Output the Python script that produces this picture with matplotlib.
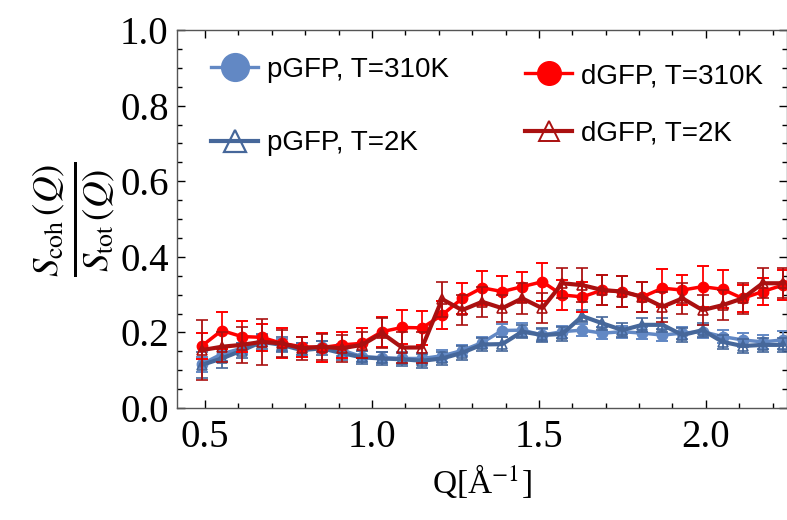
import matplotlib
matplotlib.use("Agg")
import matplotlib.pyplot as plt
from matplotlib.lines import Line2D
from matplotlib.ticker import MultipleLocator, FormatStrFormatter

plt.rcParams["mathtext.fontset"] = "stix"

Q = [0.49, 0.55, 0.61, 0.67, 0.73, 0.79, 0.85, 0.91, 0.97, 1.03,
     1.09, 1.15, 1.21, 1.27, 1.33, 1.39, 1.45, 1.51, 1.57, 1.63,
     1.69, 1.75, 1.81, 1.87, 1.93, 1.99, 2.05, 2.11, 2.17, 2.23]

p310 = [0.116, 0.143, 0.158, 0.178, 0.167, 0.156, 0.162, 0.153, 0.136, 0.133,
        0.131, 0.131, 0.138, 0.152, 0.173, 0.205, 0.206, 0.193, 0.202, 0.206,
        0.198, 0.202, 0.198, 0.193, 0.198, 0.202, 0.189, 0.180, 0.175, 0.180]
p310_err = [0.020, 0.018, 0.015, 0.015, 0.015, 0.015, 0.015, 0.015, 0.015, 0.015,
            0.015, 0.015, 0.015, 0.015, 0.015, 0.018, 0.018, 0.016, 0.016, 0.016,
            0.016, 0.016, 0.016, 0.016, 0.016, 0.018, 0.018, 0.018, 0.018, 0.025]

p2 = [0.114, 0.131, 0.152, 0.175, 0.167, 0.153, 0.158, 0.145, 0.134, 0.131,
      0.129, 0.125, 0.131, 0.146, 0.168, 0.169, 0.202, 0.193, 0.196, 0.243,
      0.224, 0.206, 0.220, 0.220, 0.193, 0.206, 0.175, 0.164, 0.167, 0.167]
p2_err = [0.035, 0.025, 0.020, 0.020, 0.020, 0.018, 0.018, 0.018, 0.018, 0.018,
          0.018, 0.018, 0.018, 0.018, 0.018, 0.018, 0.018, 0.018, 0.018, 0.016,
          0.018, 0.018, 0.018, 0.018, 0.018, 0.018, 0.018, 0.018, 0.018, 0.018]

d310 = [0.164, 0.205, 0.189, 0.187, 0.171, 0.162, 0.160, 0.167, 0.171, 0.202,
        0.213, 0.212, 0.246, 0.290, 0.318, 0.308, 0.321, 0.334, 0.299, 0.294,
        0.312, 0.308, 0.294, 0.317, 0.312, 0.321, 0.314, 0.290, 0.308, 0.325]
d310_err = [0.035, 0.050, 0.040, 0.035, 0.040, 0.027, 0.038, 0.035, 0.040, 0.040,
            0.045, 0.045, 0.037, 0.040, 0.045, 0.040, 0.040, 0.050, 0.040, 0.040,
            0.040, 0.040, 0.040, 0.050, 0.040, 0.055, 0.050, 0.035, 0.035, 0.040]

d2 = [0.153, 0.162, 0.167, 0.175, 0.171, 0.158, 0.162, 0.158, 0.167, 0.198,
      0.160, 0.160, 0.288, 0.259, 0.281, 0.264, 0.290, 0.264, 0.330, 0.325,
      0.312, 0.308, 0.294, 0.268, 0.290, 0.259, 0.272, 0.290, 0.330, 0.330]
d2_err = [0.080, 0.040, 0.048, 0.060, 0.035, 0.030, 0.035, 0.035, 0.035, 0.040,
          0.040, 0.040, 0.046, 0.040, 0.040, 0.036, 0.040, 0.040, 0.040, 0.045,
          0.040, 0.040, 0.040, 0.040, 0.040, 0.040, 0.040, 0.040, 0.040, 0.040]

labels = ["pGFP, T=310K", "pGFP, T=2K", "dGFP, T=310K", "dGFP, T=2K"]
c_p310 = "#6288C4"
c_p2 = "#46679A"
c_d310 = "#FF0000"
c_d2 = "#AA1010"

fig = plt.figure(figsize=(7.87, 5.20), dpi=100)
ax = fig.add_axes([177/787, 1 - 408/520, 610/787, 378/520])

ax.errorbar(Q, p310, yerr=p310_err, color=c_p310, marker="o", ms=7.5, lw=2.5,
            capsize=4.5, elinewidth=1.3, capthick=1.4, zorder=2)
ax.errorbar(Q, p2, yerr=p2_err, color=c_p2, marker="^", ms=7, mfc="none", mew=1.2,
            lw=3.0, capsize=4.5, elinewidth=1.3, capthick=1.4, zorder=3)
ax.errorbar(Q, d310, yerr=d310_err, color=c_d310, marker="o", ms=7.5, lw=2.5,
            capsize=4.5, elinewidth=1.3, capthick=1.4, zorder=4)
ax.errorbar(Q, d2, yerr=d2_err, color=c_d2, marker="^", ms=7, mfc="none", mew=1.2,
            lw=3.0, capsize=4.5, elinewidth=1.3, capthick=1.4, zorder=5)

ax.set_xlim(0.416, 2.243)
ax.set_ylim(0.0, 1.0)
ax.xaxis.set_major_locator(MultipleLocator(0.5))
ax.xaxis.set_minor_locator(MultipleLocator(0.1))
ax.yaxis.set_major_locator(MultipleLocator(0.2))
ax.yaxis.set_minor_locator(MultipleLocator(0.05))
ax.xaxis.set_major_formatter(FormatStrFormatter("%.1f"))
ax.yaxis.set_major_formatter(FormatStrFormatter("%.1f"))
ax.tick_params(which="both", direction="in", top=True, right=True, width=1.0,
               colors="black")
ax.tick_params(which="major", length=6)
ax.tick_params(which="minor", length=3.5)
ax.tick_params(axis="x", pad=8)
ax.tick_params(axis="y", pad=6)
for s in ax.spines.values():
    s.set_color("#555555")
    s.set_linewidth(1.0)

for lab in ax.get_xticklabels() + ax.get_yticklabels():
    lab.set_fontfamily("Liberation Serif")
    lab.set_fontsize(28)

ax.set_xlabel(r"Q[Å$^{-1}$]", fontfamily="Liberation Serif", fontsize=24, labelpad=4)
ax.set_ylabel(r"$\frac{S_{\mathrm{coh}}\,(Q)}{S_{\mathrm{tot}}\,(Q)}$", fontsize=38, labelpad=2)

h_p310 = Line2D([], [], color=c_p310, marker="o", ms=20, lw=2.4)
h_p2 = Line2D([], [], color=c_p2, marker="^", ms=16, mfc="none", mew=1.6, lw=3.0)
h_d310 = Line2D([], [], color=c_d310, marker="o", ms=17, lw=2.4)
h_d2 = Line2D([], [], color=c_d2, marker="^", ms=14, mfc="none", mew=1.4, lw=3.0)

leg_kw = dict(frameon=False, handlelength=1.7, handletextpad=0.3,
              prop={"family": "Liberation Sans", "size": 20})
leg1 = fig.legend([h_p310, h_p2], labels[:2], loc="upper left", labelspacing=1.7,
                  bbox_to_anchor=(186/787, 1 - 32/520), **leg_kw)
leg2 = fig.legend([h_d310, h_d2], labels[2:], loc="upper left", labelspacing=1.15,
                  bbox_to_anchor=(500/787, 1 - 38/520), **leg_kw)

fig.savefig("out.png", dpi=100)
